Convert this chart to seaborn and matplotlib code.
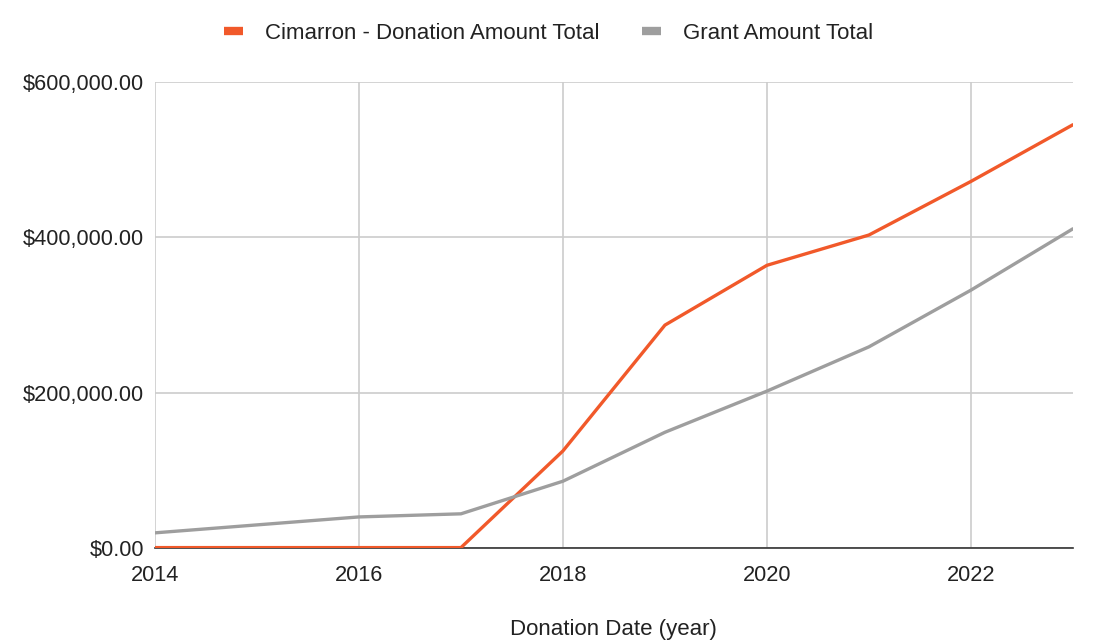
import matplotlib
matplotlib.use("Agg")
import matplotlib.pyplot as plt
import matplotlib.ticker as mticker
from matplotlib.lines import Line2D
import seaborn as sns
import pandas as pd

years = [2014, 2016, 2017, 2018, 2019, 2020, 2021, 2022, 2023]
donation = [500, 500, 500, 125000, 287000, 364000, 403000, 472000, 545000]
grant = [19500, 40000, 44000, 86000, 149000, 202000, 259000, 332000, 411000]
series_names = ["Cimarron - Donation Amount Total", "Grant Amount Total"]
colors = ["#f1592a", "#9e9e9e"]

df = pd.concat([
    pd.DataFrame({"year": years, "value": donation, "series": series_names[0]}),
    pd.DataFrame({"year": years, "value": grant, "series": series_names[1]}),
])

sns.set_style("white")
plt.rcParams["font.family"] = ["Liberation Sans", "DejaVu Sans"]

fig = plt.figure(figsize=(10.97, 6.41), dpi=100)
ax = fig.add_axes([0.1413, 0.1451, 0.8367, 0.7269])

sns.lineplot(data=df, x="year", y="value", hue="series", palette=colors,
             hue_order=series_names, linewidth=2.4, ax=ax, legend=False, zorder=3)

ax.set_xlim(2014, 2023)
ax.set_ylim(0, 600000)
ax.set_xticks([2014, 2016, 2018, 2020, 2022])
ax.set_yticks([0, 200000, 400000, 600000])
ax.yaxis.set_major_formatter(mticker.FuncFormatter(lambda v, p: f"${v:,.2f}"))
ax.grid(True, color="#cccccc", linewidth=1.2)
for s in ["top", "right", "left"]:
    ax.spines[s].set_visible(False)
ax.spines["bottom"].set_color("#333333")
ax.spines["bottom"].set_linewidth(1.2)
ax.tick_params(axis="y", labelsize=15.7, colors="#222222", length=0, pad=8)
ax.tick_params(axis="x", labelsize=15.7, colors="#222222", length=0, pad=12)
ax.set_xlabel("Donation Date (year)", fontsize=16, color="#222222", labelpad=24)
ax.set_ylabel("")

handles = [Line2D([0], [0], color=c, linewidth=6, solid_capstyle="butt") for c in colors]
fig.legend(handles, series_names, loc="upper center", bbox_to_anchor=(0.5, 0.995),
           ncol=2, frameon=False, fontsize=16, handlelength=0.85, columnspacing=1.9,
           handletextpad=1.0, labelcolor="#222222")

fig.savefig("out.png", dpi=100)
